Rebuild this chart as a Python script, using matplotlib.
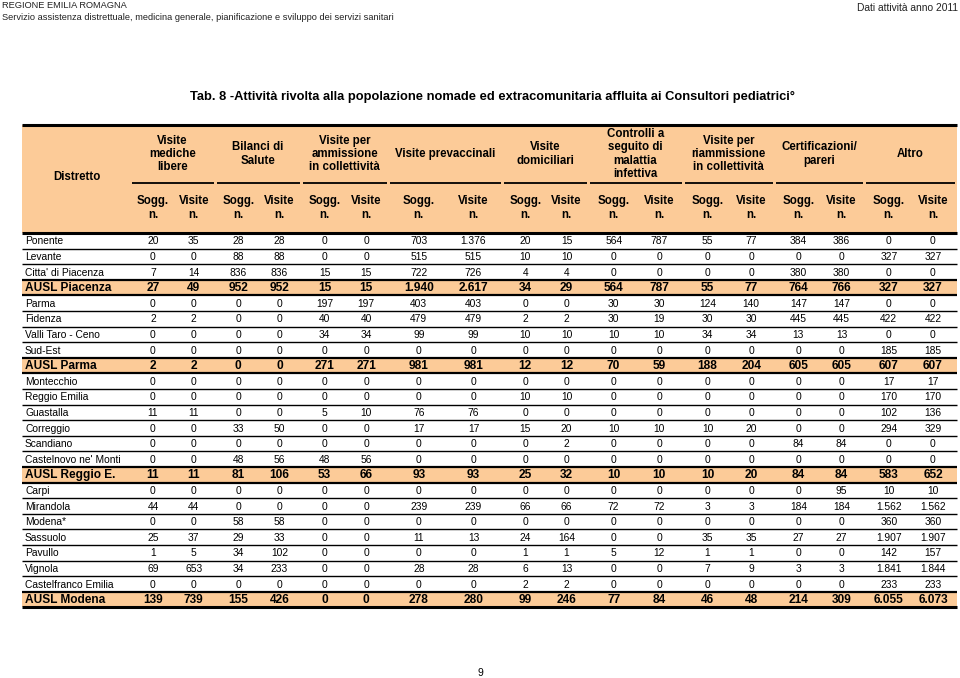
import matplotlib
matplotlib.use("Agg")
import matplotlib.pyplot as plt

# ---------------- data ----------------
page_header_left = "REGIONE EMILIA ROMAGNA"
page_header_sub = "Servizio assistenza distrettuale, medicina generale, pianificazione e sviluppo dei servizi sanitari"
page_header_right = "Dati attività anno 2011"
title = "Tab. 8 -Attività rivolta alla popolazione nomade ed extracomunitaria affluita ai Consultori pediatrici°"
page_number = "9"

first_col_label = "Distretto"
group_labels = [
    "Visite\nmediche\nlibere",
    "Bilanci di\nSalute",
    "Visite per\nammissione\nin collettività",
    "Visite prevaccinali",
    "Visite\ndomiciliari",
    "Controlli a\nseguito di\nmalattia\ninfettiva",
    "Visite per\nriammissione\nin collettività",
    "Certificazioni/\npareri",
    "Altro",
]
sub_labels = ["Sogg.\nn.", "Visite\nn."]

districts = [
    "Ponente", "Levante", "Citta' di Piacenza", "AUSL Piacenza",
    "Parma", "Fidenza", "Valli Taro - Ceno", "Sud-Est", "AUSL Parma",
    "Montecchio", "Reggio Emilia", "Guastalla", "Correggio", "Scandiano",
    "Castelnovo ne' Monti", "AUSL Reggio E.",
    "Carpi", "Mirandola", "Modena*", "Sassuolo", "Pavullo", "Vignola",
    "Castelfranco Emilia", "AUSL Modena",
]
is_total = [d.startswith("AUSL") for d in districts]

values = [
    [20, 35, 28, 28, 0, 0, 703, 1376, 20, 15, 564, 787, 55, 77, 384, 386, 0, 0],
    [0, 0, 88, 88, 0, 0, 515, 515, 10, 10, 0, 0, 0, 0, 0, 0, 327, 327],
    [7, 14, 836, 836, 15, 15, 722, 726, 4, 4, 0, 0, 0, 0, 380, 380, 0, 0],
    [27, 49, 952, 952, 15, 15, 1940, 2617, 34, 29, 564, 787, 55, 77, 764, 766, 327, 327],
    [0, 0, 0, 0, 197, 197, 403, 403, 0, 0, 30, 30, 124, 140, 147, 147, 0, 0],
    [2, 2, 0, 0, 40, 40, 479, 479, 2, 2, 30, 19, 30, 30, 445, 445, 422, 422],
    [0, 0, 0, 0, 34, 34, 99, 99, 10, 10, 10, 10, 34, 34, 13, 13, 0, 0],
    [0, 0, 0, 0, 0, 0, 0, 0, 0, 0, 0, 0, 0, 0, 0, 0, 185, 185],
    [2, 2, 0, 0, 271, 271, 981, 981, 12, 12, 70, 59, 188, 204, 605, 605, 607, 607],
    [0, 0, 0, 0, 0, 0, 0, 0, 0, 0, 0, 0, 0, 0, 0, 0, 17, 17],
    [0, 0, 0, 0, 0, 0, 0, 0, 10, 10, 0, 0, 0, 0, 0, 0, 170, 170],
    [11, 11, 0, 0, 5, 10, 76, 76, 0, 0, 0, 0, 0, 0, 0, 0, 102, 136],
    [0, 0, 33, 50, 0, 0, 17, 17, 15, 20, 10, 10, 10, 20, 0, 0, 294, 329],
    [0, 0, 0, 0, 0, 0, 0, 0, 0, 2, 0, 0, 0, 0, 84, 84, 0, 0],
    [0, 0, 48, 56, 48, 56, 0, 0, 0, 0, 0, 0, 0, 0, 0, 0, 0, 0],
    [11, 11, 81, 106, 53, 66, 93, 93, 25, 32, 10, 10, 10, 20, 84, 84, 583, 652],
    [0, 0, 0, 0, 0, 0, 0, 0, 0, 0, 0, 0, 0, 0, 0, 95, 10, 10],
    [44, 44, 0, 0, 0, 0, 239, 239, 66, 66, 72, 72, 3, 3, 184, 184, 1562, 1562],
    [0, 0, 58, 58, 0, 0, 0, 0, 0, 0, 0, 0, 0, 0, 0, 0, 360, 360],
    [25, 37, 29, 33, 0, 0, 11, 13, 24, 164, 0, 0, 35, 35, 27, 27, 1907, 1907],
    [1, 5, 34, 102, 0, 0, 0, 0, 1, 1, 5, 12, 1, 1, 0, 0, 142, 157],
    [69, 653, 34, 233, 0, 0, 28, 28, 6, 13, 0, 0, 7, 9, 3, 3, 1841, 1844],
    [0, 0, 0, 0, 0, 0, 0, 0, 2, 2, 0, 0, 0, 0, 0, 0, 233, 233],
    [139, 739, 155, 426, 0, 0, 278, 280, 99, 246, 77, 84, 46, 48, 214, 309, 6055, 6073],
]

# ---------------- layout / style ----------------
W, H = 960, 678
PEACH = "#FCCB98"
FONT = ["Liberation Sans", "DejaVu Sans"]
NARROW = ["Liberation Sans Narrow", "Liberation Sans", "DejaVu Sans"]

x_left, x_right = 22, 957
group_edges = [130, 215, 301, 388, 502, 588, 683, 774, 864, 956]
y_head_top = 125
y_group_line = 183
y_head_bot = 233
row_h = 15.6


def fmt(v):
    return f"{v:,}".replace(",", ".")


fig = plt.figure(figsize=(W / 100, H / 100), dpi=100)
ax = fig.add_axes([0, 0, 1, 1])
ax.set_xlim(0, W)
ax.set_ylim(H, 0)
ax.axis("off")

# page header
ax.text(2, 6, page_header_left, fontsize=6.7, family=NARROW, va="center", ha="left", color="#222222")
ax.text(2, 17, page_header_sub, fontsize=6.7, family=NARROW, va="center", ha="left", color="#222222")
ax.text(958, 8, page_header_right, fontsize=7.4, family=NARROW, va="center", ha="right", color="#222222")

# title
ax.text(492, 97, title, fontsize=9.3, family=NARROW, weight="bold", ha="center", va="center")

# header background
ax.fill_between([x_left, x_right], y_head_top, y_head_bot, color=PEACH, lw=0, zorder=0)
ax.plot([x_left, x_right], [y_head_top, y_head_top], color="black", lw=2.2, solid_capstyle="butt")
ax.plot([x_left, x_right], [y_head_bot, y_head_bot], color="black", lw=2.2, solid_capstyle="butt")

ax.text(77, 177, first_col_label, fontsize=8.3, weight="bold", family=FONT, ha="center", va="center")

col_centers = []
for g, lab in enumerate(group_labels):
    a, b = group_edges[g], group_edges[g + 1]
    cx = (a + b) / 2
    ax.text(cx, 154, lab, fontsize=8.3, weight="bold", family=FONT, ha="center", va="center",
            linespacing=1.12)
    ax.plot([a + 1.5, b - 1.5], [y_group_line, y_group_line], color="black", lw=1.3,
            solid_capstyle="butt")
    for k, sl in enumerate(sub_labels):
        sx = a + (b - a) * (0.27 + 0.48 * k)
        col_centers.append(sx)
        ax.text(sx, 208, sl, fontsize=8.3, weight="bold", family=FONT, ha="center", va="center",
                linespacing=1.3)

# body rows
for i, (name, row, tot) in enumerate(zip(districts, values, is_total)):
    y0 = y_head_bot + i * row_h
    y1 = y0 + row_h
    yc = (y0 + y1) / 2
    if tot:
        ax.fill_between([x_left, x_right], y0, y1, color=PEACH, lw=0, zorder=0)
        fs, wt = 8.6, "bold"
    else:
        fs, wt = 7.4, "normal"
    ax.text(25, yc + 0.5, name, fontsize=fs, weight=wt, family=FONT, ha="left", va="center")
    for cx, v in zip(col_centers, row):
        ax.text(cx, yc + 0.5, fmt(v), fontsize=fs, weight=wt, family=FONT, ha="center", va="center")
    last = i == len(districts) - 1
    lw = 2.2 if last else (1.6 if tot or (i + 1 < len(is_total) and is_total[i + 1]) else 1.0)
    ax.plot([x_left, x_right], [y1, y1], color="black", lw=lw, solid_capstyle="butt")

ax.text(480, 673, page_number, fontsize=7.5, family=FONT, ha="center", va="center")

fig.savefig("out.png", dpi=100, facecolor="white")
